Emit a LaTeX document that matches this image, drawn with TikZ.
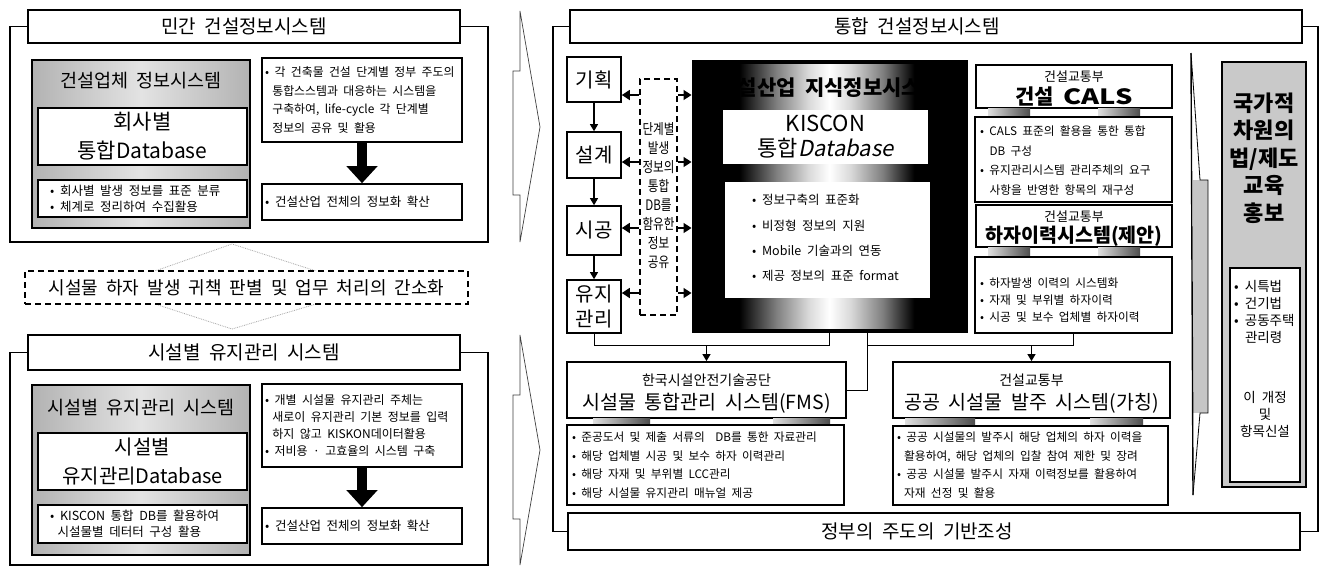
\documentclass[tikz,border=0pt]{standalone}
\usepackage{fontspec}
\usepackage{graphicx}
\setmainfont{Noto Sans CJK KR}[WordSpace=2,AutoFakeSlant=0.2]
\newfontfamily\narrowf{Noto Sans CJK KR}[FakeStretch=0.8,WordSpace=2]
\usetikzlibrary{arrows.meta,calc}
\newcommand\fsz[2]{\fontsize{#1}{#2}\selectfont}
\newcommand\bxat[7]{\node[#6,minimum width={(#4-#2)*1pt},minimum height={(#5-#3)*1pt}] (#1) at ({(#2+#4)/2},{(#3+#5)/2}) {#7};}
\pgfdeclarehorizontalshading{kisshade}{100bp}{color(0bp)=(black); color(33bp)=(black); color(40bp)=(black!50); color(46bp)=(black!15); color(50bp)=(white); color(54bp)=(black!15); color(60bp)=(black!50); color(66bp)=(black); color(100bp)=(black)}
\begin{document}
\begin{tikzpicture}[x=1pt,y=-1pt,
  bx/.style={draw,line width=1.6pt,fill=white,inner sep=0pt},
  hdr/.style={bx,line width=1.8pt,font=\fsz{19}{22}},
  fr/.style={line width=1.6pt},
  gbox/.style={draw,line width=1.8pt,left color=gray!60,right color=gray!60,middle color=gray!22},
  tx/.style={inner sep=0pt,align=left},
  txc/.style={inner sep=0pt,align=center},
  dbox/.style={draw,line width=1.5pt,dash pattern=on 6pt off 4pt,fill=white},
  bigarr/.style={line width=10pt,-{Triangle[length=17pt,width=30pt]}},
  sarr/.style={line width=1.2pt,-{Triangle[length=7pt,width=8pt]}},
  harr/.style={line width=1.5pt,-{Triangle[length=8pt,width=10pt]}},
  conn/.style={line width=1pt},
  chev/.style={draw=black!75,line width=0.7pt,fill=white},
  strip/.style={left color=gray!25,right color=black!70},
  stg/.style={bx,line width=1.6pt,font=\fsz{20}{25}},
  wb/.style={fill=white,inner sep=0pt},
]
\useasboundingbox (0,0) rectangle (1325,568);
\fill[white] (0,0) rectangle (1325,568);

% ---------------- left top panel
\bxat{hLa}{28}{10}{460}{43}{hdr}{민간 건설정보시스템}
\draw[fr] (hLa.west) -- (10,26.5) -- (10,242) -- (488,242) -- (488,26.5) -- (hLa.east);
\bxat{gLa}{32}{60}{250}{228}{gbox}{}
\node[txc,font=\fsz{18.5}{20}] (tLa) at (141,81) {건설업체 정보시스템};
\bxat{dLa}{38}{108}{247}{165}{bx,line width=2pt,font=\fsz{21}{29},align=center}{회사별\\통합Database}
\bxat{bLa}{38}{180}{247}{217}{bx,line width=2pt}{}
\node[tx,anchor=west,font=\fsz{12.5}{16}] (xLa) at (50,198.5) {• 회사별 발생 정보를 표준 분류\\• 체계로 정리하여 수집활용};
\bxat{rLa}{262}{58}{462}{142}{bx}{}
\node[tx,anchor=west,font=\fsz{11.9}{18.5}] (xLb) at (265,100) {• 각 건축물 건설 단계별 정부 주도의\\\hspace*{0.6em}통합스스템과 대응하는 시스템을\\\hspace*{0.6em}구축하여, life-cycle 각 단계별\\\hspace*{0.6em}정보의 공유 및 활용};
\bxat{rLb}{262}{184}{462}{220}{bx}{}
\node[tx,anchor=west,font=\fsz{12.5}{16}] (xLc) at (265,202) {• 건설산업 전체의 정보화 확산};
\draw[bigarr] (rLa.south) -- (rLb.north);

% ---------------- middle dashed
\draw[gray!70,densely dotted,line width=0.8pt] (155,271) -- (232,244) -- (316,271);
\draw[gray!70,densely dotted,line width=0.8pt] (155,304) -- (232,329) -- (316,304);
\bxat{dsL}{25}{271}{468}{304}{dbox}{}
\node[txc,font=\fsz{18}{20}] (xDs) at (dsL) {시설물 하자 발생 귀책 판별 및 업무 처리의 간소화};

% ---------------- left bottom panel
\bxat{hLb}{28}{335}{460}{370}{hdr}{시설별 유지관리 시스템}
\draw[fr] (hLb.west) -- (10,352.5) -- (10,565) -- (488,565) -- (488,352.5) -- (hLb.east);
\bxat{gLb}{32}{385}{250}{555}{gbox}{}
\node[txc,font=\fsz{18.5}{20}] (tLb) at (141,408) {시설별 유지관리 시스템};
\bxat{dLb}{38}{433}{247}{490}{bx,line width=2pt,font=\fsz{20}{29},align=center}{시설별\\유지관리Database}
\bxat{bLb}{38}{505}{247}{543}{bx,line width=2pt}{}
\node[tx,anchor=west,font=\fsz{12.5}{16}] (xLd) at (50,524) {• KISCON 통합 DB를 활용하여\\\hspace*{0.6em}시설물별 데터터 구성 활용};
\bxat{rLc}{262}{384}{462}{467}{bx}{}
\node[tx,anchor=west,font=\fsz{12}{17}] (xLe) at (265,425.5) {• 개별 시설물 유지관리 주체는\\\hspace*{0.6em}새로이 유지관리 기본 정보를 입력\\\hspace*{0.6em}하지 않고 KISKON데이터활용\\• 저비용 · 고효율의 시스템 구축};
\bxat{rLd}{262}{508}{462}{544}{bx}{}
\node[tx,anchor=west,font=\fsz{12.5}{16}] (xLf) at (265,526) {• 건설산업 전체의 정보화 확산};
\draw[bigarr] (rLc.south) -- (rLd.north);

% ---------------- chevrons
\draw[chev] (513,71) -- (520,71) -- (520,11) -- (540,127) -- (520,242) -- (520,195) -- (513,195) -- cycle;
\draw[chev] (513,395) -- (520,395) -- (520,335) -- (540,450) -- (520,565) -- (520,519) -- (513,519) -- cycle;

% ---------------- right panel frame
\bxat{hR}{570}{10}{1302}{43}{hdr}{}
\node[txc,font=\fsz{19}{22}] (xhR) at (917,26.5) {통합 건설정보시스템};
\bxat{hRB}{568}{513}{1300}{550}{hdr}{}
\node[txc,font=\fsz{19}{22}] (xhRB) at (917,531.5) {정부의 주도의 기반조성};
\draw[fr] (hR.west) -- (553,26.5) -- (553,531.5) -- (hRB.west);
\draw[fr] (hR.east) -- (1318,26.5) -- (1318,531.5) -- (hRB.east);

% stages
\bxat{s1}{567}{57}{621}{102}{stg}{기획}
\bxat{s2}{567}{132}{621}{178}{stg}{설계}
\bxat{s3}{567}{206}{621}{255}{stg}{시공}
\bxat{s4}{567}{280}{621}{333}{stg,align=center}{유지\\관리}
\draw[sarr] (s1.south) -- (s2.north);
\draw[sarr] (s2.south) -- (s3.north);
\draw[sarr] (s3.south) -- (s4.north);

% dashed column
\bxat{dsR}{640}{79}{677}{315}{dbox,line width=1.6pt}{}
\node[txc,font=\narrowf\fsz{14.5}{19}] (xdsR) at (658.5,196) {단계별\\발생\\정보의\\통합\\DB를\\함유한\\정보\\공유};

% KISCON
\bxat{kis}{692}{60}{967}{332}{draw=black,fill=black,line width=1pt}{}
\shade[shading=kisshade] (697,64) rectangle (962,328);
\node[txc,font=\fsz{21}{22}\bfseries] (xkt) at (829.5,88) {건설산업 지식정보시스템};
\bxat{kdb}{723}{110}{928}{164}{wb,font=\fsz{22}{25},align=center}{KISCON\\통합\textit{Database}}
\bxat{kbl}{725}{182}{930}{298}{wb}{}
\node[tx,anchor=west,font=\fsz{12.5}{25.3}] (xkb) at (752,238) {• 정보구축의 표준화\\• 비정형 정보의 지원\\• Mobile 기술과의 연동\\• 제공 정보의 표준 format};

\foreach \yy/\nm in {95/s1,162/s2,228/s3,293/s4} {
  \coordinate (rw) at (0,\yy);
  \draw[harr] (dsR.west |- rw) -- (\nm.east |- rw);
  \draw[harr] (dsR.east |- rw) -- (kis.west |- rw);
}

% CALS column
\bxat{ca}{976}{65}{1172}{108}{bx,line width=1.8pt}{}
\node[txc,font=\fsz{13}{14}] (xca1) at (1074,77) {건설교통부};
\node[txc,font=\fsz{21}{22}\bfseries] (xca2) at (1074,97) {건설 \scalebox{1.3}[1]{CALS}};
\shade[strip] (988,108) rectangle (1030,117);
\shade[strip] (1098,108) rectangle (1140,117);
\bxat{cb}{975}{117}{1172}{202}{bx,line width=1.8pt}{}
\node[tx,anchor=west,font=\fsz{11.7}{19.5}] (xcb) at (980,160.5) {• CALS 표준의 활용을 통한 통합\\\hspace*{0.8em}DB 구성\\• 유지관리시스템 관리주체의 요구\\\hspace*{0.8em}사항을 반영한 항목의 재구성};
\bxat{cc}{976}{205}{1172}{247}{bx,line width=1.8pt}{}
\node[txc,font=\fsz{13}{14}] (xcc1) at (1074,217) {건설교통부};
\node[txc,font=\fsz{19.5}{20}\bfseries] (xcc2) at (1074,236) {하자이력시스템(제안)};
\shade[strip] (988,247) rectangle (1030,257);
\shade[strip] (1098,247) rectangle (1140,257);
\bxat{cd}{975}{257}{1172}{333}{bx,line width=1.8pt}{}
\node[tx,anchor=west,font=\fsz{11.7}{17}] (xcd) at (980,300) {• 하자발생 이력의 시스템화\\• 자재 및 부위별 하자이력\\• 시공 및 보수 업체별 하자이력};

% thin tall arrow
\fill[white] (1191,53) -- (1200,180) -- (1208,180) -- (1208,413) -- (1200,413) -- (1193,495) -- cycle;
\fill[gray!45] (1193,180) rectangle (1208,413);
\draw[line width=0.8pt] (1191,53) -- (1200,180) -- (1208,180) -- (1208,413) -- (1200,413) -- (1193,495);
\draw[line width=1.4pt] (1191,53) -- (1193,495);

% national column
\bxat{nat}{1222}{62}{1306}{487}{draw,line width=2pt,fill=gray!42}{}
\node[txc,font=\fsz{22}{27.5}\bfseries] (xnat) at (1264,158) {국가적\\차원의\\법/제도\\교육\\홍보};
\bxat{natb}{1230}{268}{1300}{482}{bx,line width=1.8pt}{}
\node[tx,anchor=north west,font=\fsz{13.5}{17}] (xnb1) at (1234,280) {• 시특법\\• 건기법\\• 공동주택\\\hspace*{0.8em}관리령};
\node[txc,font=\fsz{13.5}{17}] (xnb2) at (1265,414) {이 개정\\및\\항목신설};

% FMS
\bxat{fms}{567}{362}{846}{418}{bx,line width=1.8pt}{}
\node[txc,font=\fsz{14}{15}] (xf1) at (706.5,380) {한국시설안전기술공단};
\node[txc,font=\fsz{19.5}{20}] (xf2) at (706.5,403) {시설물 통합관리 시스템(FMS)};
\shade[strip] (593,418) rectangle (650,425);
\shade[strip] (773,418) rectangle (830,425);
\bxat{fb}{567}{425}{844}{505}{bx,line width=1.8pt}{}
\node[tx,anchor=west,font=\fsz{11.7}{18.7}] (xfb) at (572,465) {• 준공도서 및 제출 서류의 \ DB를 통한 자료관리\\• 해당 업체별 시공 및 보수 하자 이력관리\\• 해당 자재 및 부위별 LCC관리\\• 해당 시설물 유지관리 매뉴얼 제공};

% public procurement
\bxat{pub}{893}{362}{1170}{418}{bx,line width=1.8pt}{}
\node[txc,font=\fsz{14}{15}] (xp1) at (1031.5,380) {건설교통부};
\node[txc,font=\fsz{19.5}{20}] (xp2) at (1031.5,403) {공공 시설물 발주 시스템(가칭)};
\shade[strip] (905,418) rectangle (975,426);
\shade[strip] (1090,418) rectangle (1143,426);
\bxat{pb}{893}{426}{1168}{505}{bx,line width=1.8pt}{}
\node[tx,anchor=west,font=\fsz{11.7}{18.7}] (xpb) at (897,465) {• 공공 시설물의 발주시 해당 업체의 하자 이력을\\\hspace*{0.6em}활용하여, 해당 업체의 입찰 참여 제한 및 장려\\• 공공 시설물 발주시 자재 이력정보를 활용하여\\\hspace*{0.6em}자재 선정 및 활용};

% connectors
\coordinate (j1) at (710,345);
\coordinate (k2) at (867,332);
\draw[conn] (s4.south) |- (kis.south |- j1) -- (kis.south);
\draw[sarr] (fms.north |- j1) -- (fms.north);
\draw[conn] (k2) |- (fms.east);
\draw[conn] (k2 |- j1) -| (cd.south);
\draw[sarr] (pub.north |- j1) -- (pub.north);
\end{tikzpicture}
\end{document}
